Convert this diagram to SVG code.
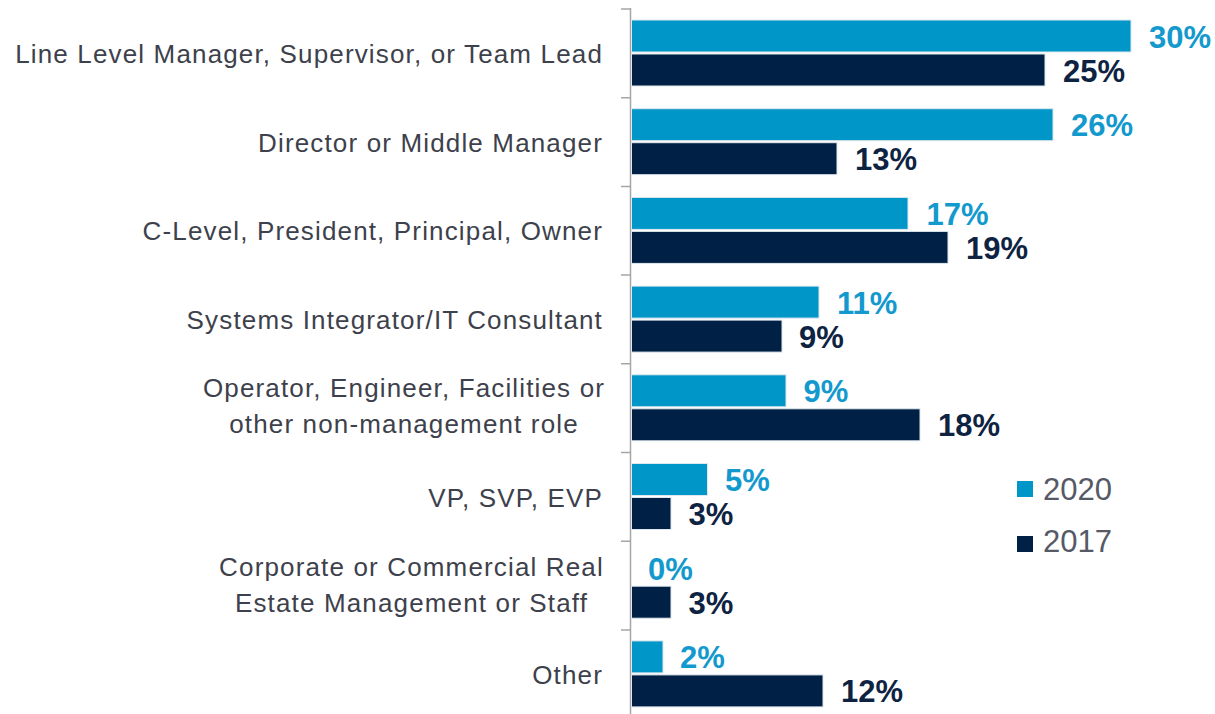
<svg xmlns="http://www.w3.org/2000/svg" width="1215" height="714" viewBox="0 0 1215 714">
<style>
.cat{font-family:"Liberation Sans",Arial,sans-serif;font-size:26px;letter-spacing:1.15px;fill:#3d414b;text-anchor:end}
.catm{text-anchor:middle}
.v{font-family:"Liberation Sans",Arial,sans-serif;font-size:31px;font-weight:bold}
.v20{fill:#1399cd}
.v17{fill:#0e2342}
.b20{fill:#0096c8;stroke:#dfe8ee;stroke-width:1}
.b17{fill:#002145;stroke:#dfe8ee;stroke-width:1}
.ax{stroke:#a6a6a6;stroke-width:1.5;fill:none}
.leg{font-family:"Liberation Sans",Arial,sans-serif;font-size:31px;fill:#555a66}
</style>
<rect width="1215" height="714" fill="#ffffff"/>
<g id="axis">
<path class="ax" d="M630.5 8V714M621 9H630.5M621 97.7H630.5M621 186.4H630.5M621 275.1H630.5M621 363.8H630.5M621 452.5H630.5M621 541.2H630.5M621 629.9H630.5"/>
</g>
<g id="cat1">
<text class="cat" x="603" y="63">Line Level Manager, Supervisor, or Team Lead</text>
<rect class="b20" x="631.5" y="20" width="499.5" height="32"/>
<rect class="b17" x="631.5" y="54" width="413.5" height="32"/>
<text class="v v20" x="1149" y="47.5">30%</text>
<text class="v v17" x="1063" y="81.5">25%</text>
</g>
<g id="cat2">
<text class="cat" x="603" y="151.7">Director or Middle Manager</text>
<rect class="b20" x="631.5" y="108.7" width="421.5" height="32"/>
<rect class="b17" x="631.5" y="142.7" width="205.5" height="32"/>
<text class="v v20" x="1071" y="136.2">26%</text>
<text class="v v17" x="855" y="170.2">13%</text>
</g>
<g id="cat3">
<text class="cat" x="603" y="240.4">C-Level, President, Principal, Owner</text>
<rect class="b20" x="631.5" y="197.4" width="276.5" height="32"/>
<rect class="b17" x="631.5" y="231.4" width="316.5" height="32"/>
<text class="v v20" x="926.5" y="224.9">17%</text>
<text class="v v17" x="966" y="258.9">19%</text>
</g>
<g id="cat4">
<text class="cat" x="603" y="329.1">Systems Integrator/IT Consultant</text>
<rect class="b20" x="631.5" y="286.1" width="187.5" height="32"/>
<rect class="b17" x="631.5" y="320.1" width="150.5" height="32"/>
<text class="v v20" x="837" y="313.6">11%</text>
<text class="v v17" x="799" y="347.6">9%</text>
</g>
<g id="cat5">
<text class="cat catm" x="404" y="397">Operator, Engineer, Facilities or</text>
<text class="cat catm" x="404" y="433">other non-management role</text>
<rect class="b20" x="631.5" y="374.8" width="154.5" height="32"/>
<rect class="b17" x="631.5" y="408.8" width="288.5" height="32"/>
<text class="v v20" x="803.5" y="402.3">9%</text>
<text class="v v17" x="938" y="436.3">18%</text>
</g>
<g id="cat6">
<text class="cat" x="603" y="506.5">VP, SVP, EVP</text>
<rect class="b20" x="631.5" y="463.5" width="76" height="32"/>
<rect class="b17" x="631.5" y="497.5" width="39.5" height="32"/>
<text class="v v20" x="725" y="491">5%</text>
<text class="v v17" x="688.5" y="525">3%</text>
</g>
<g id="cat7">
<text class="cat catm" x="411.5" y="576">Corporate or Commercial Real</text>
<text class="cat catm" x="411.5" y="612">Estate Management or Staff</text>
<rect class="b17" x="631.5" y="586.2" width="39.5" height="32"/>
<text class="v v20" x="648" y="579.7">0%</text>
<text class="v v17" x="688.5" y="613.7">3%</text>
</g>
<g id="cat8">
<text class="cat" x="603" y="683.9">Other</text>
<rect class="b20" x="631.5" y="640.9" width="31.5" height="32"/>
<rect class="b17" x="631.5" y="674.9" width="191.5" height="32"/>
<text class="v v20" x="680" y="668.4">2%</text>
<text class="v v17" x="841" y="702.4">12%</text>
</g>
<g id="legend">
<rect x="1017" y="481" width="16" height="16" fill="#0096c8"/>
<text class="leg" x="1043" y="500">2020</text>
<rect x="1017" y="536" width="16" height="16" fill="#002145"/>
<text class="leg" x="1043" y="552">2017</text>
</g>
</svg>
